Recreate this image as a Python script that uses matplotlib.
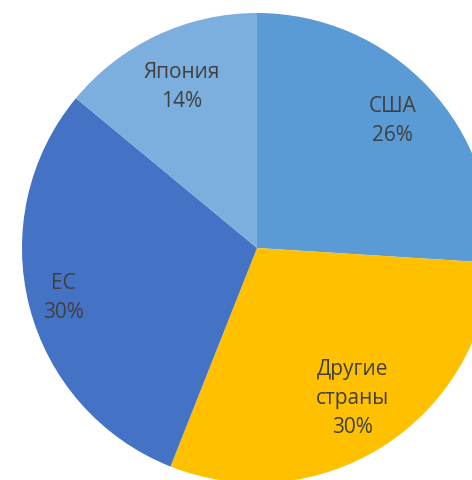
import numpy as np
import matplotlib.pyplot as plt

labels = ["США", "Другие\nстраны", "ЕС", "Япония"]
shares = [26, 30, 30, 14]
colors = ["#5B9BD5", "#FFC000", "#4472C4", "#7CAFDE"]
# how far from the centre each label sits (fraction of radius)
label_r = [0.79, 0.76, 0.85, 0.755]

fig = plt.figure(figsize=(4.72, 4.80), dpi=100)
# pie centre at about (257, 248) px, radius 235 px; it runs off the right and bottom
ax = fig.add_axes([22 / 472, -3 / 480, 470 / 472, 470 / 480])

wedges, _ = ax.pie(shares, colors=colors, startangle=90, counterclock=False,
                   radius=1, wedgeprops=dict(linewidth=0))

for w, lab, val, r in zip(wedges, labels, shares, label_r):
    mid = np.deg2rad((w.theta1 + w.theta2) / 2)
    ax.text(r * np.cos(mid), r * np.sin(mid), f"{lab}\n{val}%",
            ha="center", va="center", fontsize=15, color="#404040",
            family="Open Sans", linespacing=1.5)

ax.set_xlim(-1, 1)
ax.set_ylim(-1, 1)
ax.set_aspect("equal")
ax.axis("off")

fig.savefig("out.png", dpi=100)
